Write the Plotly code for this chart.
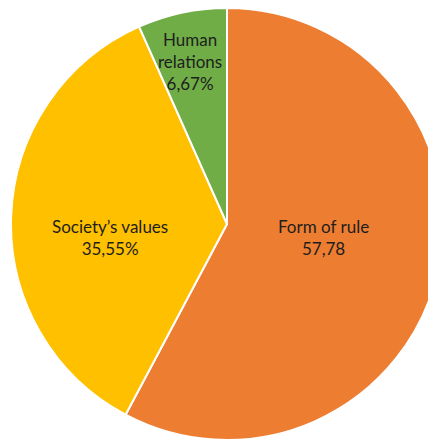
import plotly.graph_objects as go

categories = ["Form of rule", "Society’s values", "Human relations"]
display_labels = ["Form of rule", "Society’s values", "Human<br>relations"]
values = [57.78, 35.55, 6.67]
value_labels = ["57,78", "35,55%", "6,67%"]
colors = ["#ED7D31", "#FFC000", "#70AD47"]

# label anchor positions (paper coordinates) for the data labels
label_x = [0.7225, 0.2339, 0.4174]
label_y = [0.4761, 0.4761, 0.877]

fig = go.Figure(go.Pie(
    labels=categories,
    values=values,
    textinfo="none",
    sort=False,
    direction="clockwise",
    rotation=0,
    domain=dict(x=[3 / 436, 435 / 436], y=[7 / 439, 1]),
    marker=dict(colors=colors, line=dict(color="white", width=2)),
    showlegend=False,
    hoverinfo="label+percent",
))

for name, val, x, y in zip(display_labels, value_labels, label_x, label_y):
    fig.add_annotation(
        x=x, y=y, xref="paper", yref="paper",
        text=f"{name}<br>{val}",
        showarrow=False,
        xanchor="center", yanchor="middle", align="center",
        font=dict(family="Lato", size=17, color="#1e1e1e"),
    )

fig.update_layout(
    width=436, height=439,
    margin=dict(l=0, r=0, t=0, b=0),
    paper_bgcolor="white",
    plot_bgcolor="white",
)
fig.write_html("out.html")
